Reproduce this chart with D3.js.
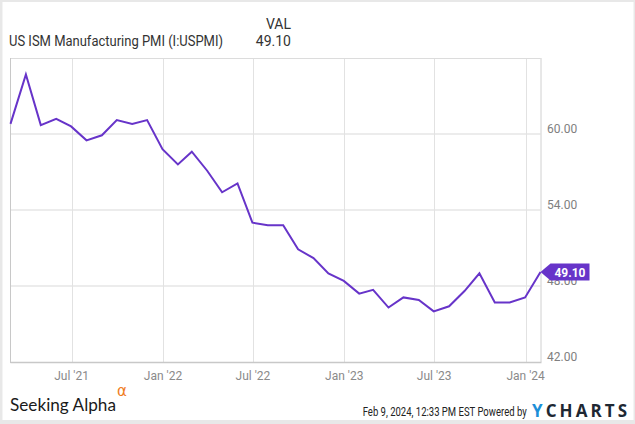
<!DOCTYPE html>
<html>
<head>
<meta charset="utf-8">
<script src="https://cdn.jsdelivr.net/npm/d3@7"></script>
<style>
  html, body { margin: 0; padding: 0; background: #fff; }
  svg { display: block; }
</style>
</head>
<body>
<svg id="chart" width="635" height="424"></svg>
<script>
// ---- Data (month-end dates, ISM Manufacturing PMI) ----
const dates = [
  "2021-02-28","2021-03-31","2021-04-30","2021-05-31","2021-06-30","2021-07-31",
  "2021-08-31","2021-09-30","2021-10-31","2021-11-30","2021-12-31","2022-01-31",
  "2022-02-28","2022-03-31","2022-04-30","2022-05-31","2022-06-30","2022-07-31",
  "2022-08-31","2022-09-30","2022-10-31","2022-11-30","2022-12-31","2023-01-31",
  "2023-02-28","2023-03-31","2023-04-30","2023-05-31","2023-06-30","2023-07-31",
  "2023-08-31","2023-09-30","2023-10-31","2023-11-30","2023-12-31","2024-01-31"
];
const values = [
  60.8, 64.7, 60.7, 61.2, 60.6, 59.5,
  59.9, 61.1, 60.8, 61.1, 58.8, 57.6,
  58.6, 57.1, 55.4, 56.1, 53.0, 52.8,
  52.8, 50.9, 50.2, 49.0, 48.4, 47.4,
  47.7, 46.3, 47.1, 46.9, 46.0, 46.4,
  47.6, 49.0, 46.7, 46.7, 47.1, 49.1
];
const xTickDates = ["2021-07-01","2022-01-01","2022-07-01","2023-01-01","2023-07-01","2024-01-01"];
const xTickLabels = ["Jul '21","Jan '22","Jul '22","Jan '23","Jul '23","Jan '24"];
const yTicks = [42, 48, 54, 60];
const seriesName = "US ISM Manufacturing PMI (I:USPMI)";
const lastValueLabel = "49.10";

// ---- Layout ----
const W = 635, H = 424;
const plot = { left: 10.5, right: 540.5, top: 58, bottom: 362 };
const purple = "#6734c9";
const parse = d3.utcParse("%Y-%m-%d");
const data = dates.map((d, i) => ({ date: parse(d), value: values[i] }));

const svg = d3.select("#chart");

// Outer frame
svg.append("rect").attr("x", 0).attr("y", 0).attr("width", W).attr("height", H).attr("fill", "#e8e8e8");
svg.append("rect").attr("x", 2.5).attr("y", 2).attr("width", W - 4).attr("height", H - 6).attr("fill", "#ffffff");

const x = d3.scaleUtc()
  .domain([data[0].date, data[data.length - 1].date])
  .range([plot.left, plot.right]);
const y = d3.scaleLinear().domain([42, 66]).range([plot.bottom, plot.top]);

// Horizontal grid
const g = svg.append("g");
g.selectAll(".hgrid").data(yTicks.filter(v => v > 42)).enter().append("line")
  .attr("x1", plot.left).attr("x2", plot.right)
  .attr("y1", d => y(d)).attr("y2", d => y(d))
  .attr("stroke", "#ececec").attr("stroke-width", 2);

// Vertical grid
const xTicks = xTickDates.map(parse);
g.selectAll(".vgrid").data(xTicks).enter().append("line")
  .attr("x1", d => Math.round(x(d)) + 0.5).attr("x2", d => Math.round(x(d)) + 0.5)
  .attr("y1", plot.top).attr("y2", plot.bottom)
  .attr("stroke", "#e2e2e2").attr("stroke-width", 1);

// Plot border
g.append("line").attr("x1", plot.left).attr("x2", plot.right).attr("y1", plot.top + 0.5).attr("y2", plot.top + 0.5)
  .attr("stroke", "#dcdcdc");
g.append("line").attr("x1", plot.right + 0.5).attr("x2", plot.right + 0.5).attr("y1", plot.top).attr("y2", plot.bottom)
  .attr("stroke", "#d0d0d0");
g.append("line").attr("x1", plot.left).attr("x2", plot.left).attr("y1", plot.top).attr("y2", plot.bottom + 1)
  .attr("stroke", "#c8c8c8").attr("stroke-width", 1);
g.append("line").attr("x1", plot.left).attr("x2", plot.right + 1).attr("y1", plot.bottom + 0.5).attr("y2", plot.bottom + 0.5)
  .attr("stroke", "#c8c8c8").attr("stroke-width", 1.5);

// X axis labels
svg.selectAll(".xlab").data(xTicks).enter().append("text")
  .attr("x", d => x(d)).attr("y", 380)
  .attr("text-anchor", "middle")
  .attr("font-family", "Roboto, sans-serif").attr("font-size", 12)
  .attr("fill", "#8a8a8a")
  .text((d, i) => xTickLabels[i]);

// Y axis labels
svg.selectAll(".ylab").data(yTicks).enter().append("text")
  .attr("x", 547).attr("y", d => y(d) - 1)
  .attr("font-family", "Roboto, sans-serif").attr("font-size", 12)
  .attr("fill", "#808080")
  .text(d => d.toFixed(2));

// Line
const line = d3.line().x(d => x(d.date)).y(d => y(d.value));
svg.append("path").datum(data)
  .attr("d", line)
  .attr("fill", "none").attr("stroke", purple).attr("stroke-width", 2)
  .attr("stroke-linejoin", "miter");

// Last value marker
const last = data[data.length - 1];
const lx = x(last.date), ly = y(last.value);
svg.append("path")
  .attr("d", `M${lx},${ly} L${lx + 10},${ly - 8.5} L${lx + 49},${ly - 8.5} L${lx + 49},${ly + 8.5} L${lx + 10},${ly + 8.5} Z`)
  .attr("fill", purple);
svg.append("text")
  .attr("x", lx + 29.5).attr("y", ly + 4.5)
  .attr("text-anchor", "middle")
  .attr("font-family", "Roboto, sans-serif").attr("font-size", 12).attr("font-weight", "bold")
  .attr("fill", "#fff")
  .text(lastValueLabel);

// Legend header
const leg = svg.append("g").attr("font-family", "Roboto, sans-serif").attr("font-size", 14).attr("fill", "#333");
leg.append("text").attr("x", 291).attr("y", 28.5).attr("text-anchor", "end").text("VAL");
leg.append("text").attr("x", 291).attr("y", 45.5).attr("text-anchor", "end").text(lastValueLabel);
leg.append("text").attr("x", 9).attr("y", 45.5)
  .attr("textLength", 214).attr("lengthAdjust", "spacingAndGlyphs")
  .text(seriesName);

// Footer: Seeking Alpha
svg.append("text").attr("x", 10).attr("y", 410.7)
  .attr("font-family", "Lato, 'Open Sans', sans-serif").attr("font-size", 16.5)
  .attr("fill", "#1a1a1a")
  .attr("textLength", 106).attr("lengthAdjust", "spacingAndGlyphs")
  .text("Seeking Alpha");
svg.append("text").attr("x", 117).attr("y", 396)
  .attr("font-family", "'DejaVu Sans', sans-serif").attr("font-size", 15)
  .attr("fill", "#f07d1e")
  .text("α");

// Footer: timestamp + YCHARTS
svg.append("text").attr("x", 362.7).attr("y", 415.7)
  .attr("font-family", "Roboto, sans-serif").attr("font-size", 12.5)
  .attr("fill", "#222")
  .attr("textLength", 164).attr("lengthAdjust", "spacingAndGlyphs")
  .text("Feb 9, 2024, 12:33 PM EST Powered by");
const yc = svg.append("text").attr("x", 532).attr("y", 416.5)
  .attr("font-family", "'Open Sans', Roboto, sans-serif").attr("font-size", 17).attr("font-weight", "bold")
  .attr("textLength", 95).attr("lengthAdjust", "spacing");
yc.append("tspan").attr("fill", "#1c8fd8").text("Y");
yc.append("tspan").attr("fill", "#1e2833").text("CHARTS");
</script>
</body>
</html>
